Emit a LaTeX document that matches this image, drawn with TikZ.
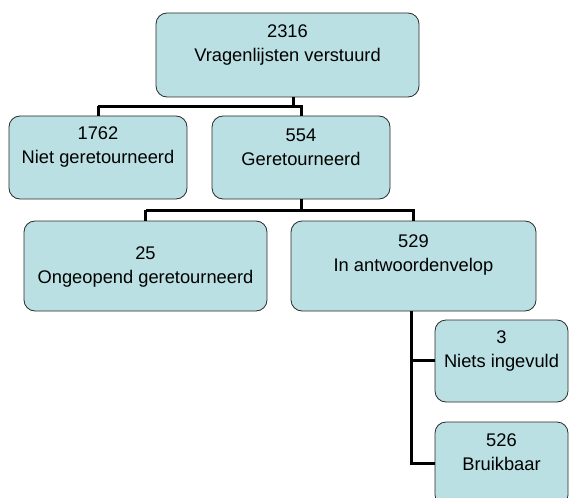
\documentclass[tikz,border=0pt]{standalone}
\usepackage{fontspec}
\setmainfont{Liberation Sans}
\definecolor{boxfill}{HTML}{BAE0E3}
\definecolor{boxline}{HTML}{2A2A2A}
\tikzset{
  box/.style={draw=boxline, line width=0.8pt, fill=boxfill, rounded corners=11pt, inner sep=0pt},
  lbl/.style={align=center, inner sep=0pt, font=\fontsize{18.3}{24}\selectfont},
  conn/.style={line width=3pt, draw=black}
}
\begin{document}
\begin{tikzpicture}[x=1pt,y=-1pt]
\useasboundingbox (0,0) rectangle (569,497);
\clip (0,0) rectangle (569,497);
\fill[white] (0,0) rectangle (569,497);
% boxes
\node[box, minimum width=263pt, minimum height=84pt] (top) at (287.5,55) {};
\node[box, minimum width=178pt, minimum height=83pt] (a) at (98,157.5) {};
\node[box, minimum width=178pt, minimum height=83pt] (b) at (301,157.5) {};
\node[box, minimum width=243pt, minimum height=90pt] (c) at (145.5,266) {};
\node[box, minimum width=245pt, minimum height=90pt] (d) at (413.5,266) {};
\node[box, minimum width=133pt, minimum height=82pt] (e) at (501.5,361) {};
\node[box, minimum width=133pt, minimum height=84pt] (f) at (501.5,464) {};
% labels
\node[lbl] (topt) at (287.5,45) {2316\\Vragenlijsten verstuurd};
\node[lbl] (at) at (98,147) {1762\\Niet geretourneerd};
\node[lbl] (bt) at (301,147) {554\\Geretourneerd};
\node[lbl] (ct) at (145.5,267) {25\\Ongeopend geretourneerd};
\node[lbl] (dt) at (413.5,255.5) {529\\In antwoordenvelop};
\node[lbl] (et) at (501.5,351.5) {3\\Niets ingevuld};
\node[lbl] (ft) at (501.5,452.5) {526\\Bruikbaar};
% connector coordinates
\coordinate (j1) at (293.5,106.5);
\coordinate (j2) at (301,210);
\coordinate (j3) at (411,360);
\coordinate (j4) at (411,463);
% connectors
\draw[conn] (top.south -| j1) -- (j1);
\draw[conn] (j1 -| a.north) -- (a.north);
\draw[conn] (j1 -| a.north) -- (j1 -| b.north) -- (b.north);
\draw[conn] (b.south) -- (j2);
\draw[conn] (j2 -| c.north) -- (c.north);
\draw[conn] (j2 -| c.north) -- (j2 -| d.north) -- (d.north);
\draw[conn] (d.south -| j3) -- (j4) -- (j4 -| f.west);
\draw[conn] (j3) -- (j3 -| e.west);
\end{tikzpicture}
\end{document}
